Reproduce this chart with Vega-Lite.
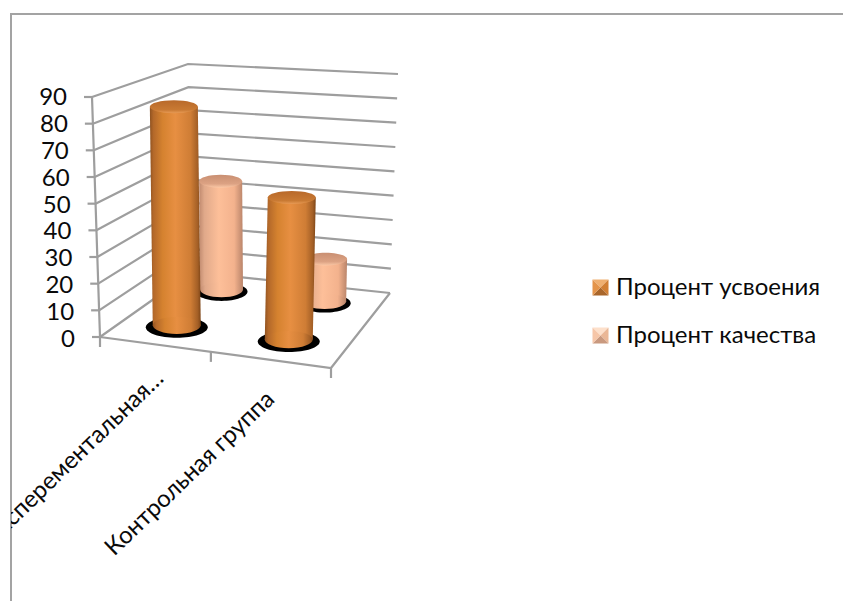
{
  "$schema": "https://vega.github.io/schema/vega-lite/v6.json",
  "width": 840,
  "height": 595,
  "padding": {"left": 11, "top": 14, "right": 0, "bottom": 0},
  "autosize": {"type": "none"},
  "background": "white",
  "config": {"view": {"stroke": "#a3a3a3", "strokeWidth": 2}, "text": {"font": "Lato", "color": "#0a0a0a"}},
  "datasets": {
    "bars": [
      {"group": "Эксперементальная…", "series": "Процент усвоения", "value": 84},
      {"group": "Эксперементальная…", "series": "Процент качества", "value": 45},
      {"group": "Контрольная группа", "series": "Процент усвоения", "value": 53},
      {"group": "Контрольная группа", "series": "Процент качества", "value": 17}
    ],
    "wall": [
      {"level": 0, "u": 0, "d": 0}, {"level": 0, "u": 0, "d": 1}, {"level": 0, "u": 1, "d": 1},
      {"level": 10, "u": 0, "d": 0}, {"level": 10, "u": 0, "d": 1}, {"level": 10, "u": 1, "d": 1},
      {"level": 20, "u": 0, "d": 0}, {"level": 20, "u": 0, "d": 1}, {"level": 20, "u": 1, "d": 1},
      {"level": 30, "u": 0, "d": 0}, {"level": 30, "u": 0, "d": 1}, {"level": 30, "u": 1, "d": 1},
      {"level": 40, "u": 0, "d": 0}, {"level": 40, "u": 0, "d": 1}, {"level": 40, "u": 1, "d": 1},
      {"level": 50, "u": 0, "d": 0}, {"level": 50, "u": 0, "d": 1}, {"level": 50, "u": 1, "d": 1},
      {"level": 60, "u": 0, "d": 0}, {"level": 60, "u": 0, "d": 1}, {"level": 60, "u": 1, "d": 1},
      {"level": 70, "u": 0, "d": 0}, {"level": 70, "u": 0, "d": 1}, {"level": 70, "u": 1, "d": 1},
      {"level": 80, "u": 0, "d": 0}, {"level": 80, "u": 0, "d": 1}, {"level": 80, "u": 1, "d": 1},
      {"level": 90, "u": 0, "d": 0}, {"level": 90, "u": 0, "d": 1}, {"level": 90, "u": 1, "d": 1}
    ],
    "floor": [{"u": 0, "d": 0}, {"u": 1, "d": 0}, {"u": 1, "d": 1}],
    "categoryTicks": [{"u": 0}, {"u": 0.48}, {"u": 1}],
    "groups": [{"group": "Эксперементальная…"}, {"group": "Контрольная группа"}],
    "swatches": [
      {"series": "Процент усвоения", "face": "top"}, {"series": "Процент усвоения", "face": "right"},
      {"series": "Процент усвоения", "face": "bottom"}, {"series": "Процент усвоения", "face": "left"},
      {"series": "Процент качества", "face": "top"}, {"series": "Процент качества", "face": "right"},
      {"series": "Процент качества", "face": "bottom"}, {"series": "Процент качества", "face": "left"}
    ],
    "legendLabels": [{"series": "Процент усвоения"}, {"series": "Процент качества"}]
  },
  "data": {"name": "bars"},
  "transform": [
    {"calculate": "datum.group === 'Контрольная группа' ? 0.735 : 0.23", "as": "u"},
    {"calculate": "datum.series === 'Процент усвоения' ? 0.28 : 0.81", "as": "d"},
    {"calculate": "datum.series === 'Процент усвоения' ? 24 : 21.5", "as": "r"},
    {"calculate": "0", "as": "zero"}
  ],
  "encoding": {
    "x": {"field": "px", "type": "quantitative", "axis": null, "scale": {"domain": [11, 851], "nice": false, "zero": false}},
    "y": {"field": "py", "type": "quantitative", "axis": null, "scale": {"domain": [609, 14], "nice": false, "zero": false}}
  },
  "layer": [
    {
      "description": "Gridlines running along the left and back walls",
      "data": {"name": "wall"},
      "transform": [
        {"calculate": "100+231*datum.u+92*datum.d-33*datum.u*datum.d+datum.level/90*(-8+18*datum.u+4*datum.d-6*datum.u*datum.d)", "as": "px"},
        {"calculate": "337+31*datum.u-65*datum.d-10*datum.u*datum.d-datum.level/90*(240+15*datum.u-32*datum.d-4*datum.u*datum.d)", "as": "py"}
      ],
      "mark": {"type": "line", "color": "#9e9e9e", "strokeWidth": 2.2},
      "encoding": {"detail": {"field": "level"}}
    },
    {
      "description": "Value axis line at the front-left corner",
      "data": {"name": "wall"},
      "transform": [
        {"filter": "datum.u === 0 && datum.d === 0"},
        {"calculate": "100+datum.level/90*(-8)", "as": "px"},
        {"calculate": "337-datum.level/90*240", "as": "py"}
      ],
      "mark": {"type": "line", "color": "#9e9e9e", "strokeWidth": 2.2}
    },
    {
      "description": "Value axis ticks",
      "data": {"name": "wall"},
      "transform": [
        {"filter": "datum.u === 0 && datum.d === 0"},
        {"calculate": "100+datum.level/90*(-8)", "as": "px"},
        {"calculate": "337-datum.level/90*240", "as": "py"},
        {"calculate": "datum.px-8", "as": "px2"}
      ],
      "mark": {"type": "rule", "color": "#9e9e9e", "strokeWidth": 2.2},
      "encoding": {"x2": {"field": "px2"}}
    },
    {
      "description": "Value axis labels",
      "data": {"name": "wall"},
      "transform": [
        {"filter": "datum.u === 0 && datum.d === 0"},
        {"calculate": "75+datum.level/90*(-8)", "as": "px"},
        {"calculate": "340-datum.level/90*242", "as": "py"}
      ],
      "mark": {"type": "text", "align": "right", "baseline": "middle", "fontSize": 24},
      "encoding": {"text": {"field": "level", "type": "quantitative"}}
    },
    {
      "description": "Front and right edges of the floor",
      "data": {"name": "floor"},
      "transform": [
        {"calculate": "100+231*datum.u+92*datum.d-33*datum.u*datum.d", "as": "px"},
        {"calculate": "337+31*datum.u-65*datum.d-10*datum.u*datum.d", "as": "py"}
      ],
      "mark": {"type": "line", "color": "#9e9e9e", "strokeWidth": 2.2}
    },
    {
      "description": "Category axis ticks",
      "data": {"name": "categoryTicks"},
      "transform": [
        {"calculate": "100+231*datum.u", "as": "px"},
        {"calculate": "337+31*datum.u", "as": "py"},
        {"calculate": "datum.py+10", "as": "py2"}
      ],
      "mark": {"type": "rule", "color": "#9e9e9e", "strokeWidth": 2.2},
      "encoding": {"y2": {"field": "py2"}}
    },
    {
      "description": "Category labels, clipped by the chart frame",
      "data": {"name": "groups"},
      "transform": [
        {"calculate": "datum.group === 'Контрольная группа' ? 0.74 : 0.26", "as": "u"},
        {"calculate": "100+231*datum.u", "as": "px"},
        {"calculate": "337+31*datum.u+(datum.group === 'Контрольная группа' ? 36 : 30)", "as": "py"}
      ],
      "mark": {"type": "text", "align": "right", "baseline": "middle", "angle": 316, "fontSize": 24, "clip": true},
      "encoding": {"text": {"field": "group"}}
    },
    {
      "description": "Shadows of the rear series",
      "transform": [
        {"filter": "datum.series === 'Процент качества'"},
        {"calculate": "100+231*datum.u+92*datum.d-33*datum.u*datum.d", "as": "px"},
        {"calculate": "339+31*datum.u-65*datum.d-10*datum.u*datum.d", "as": "py"}
      ],
      "mark": {"type": "point", "filled": true, "opacity": 1, "color": "black", "size": 2704, "shape": "M-1,0A1,0.36,0,1,0,1,0A1,0.36,0,1,0,-1,0Z"}
    },
    {
      "description": "Rear cylinder bodies",
      "transform": [
        {"filter": "datum.series === 'Процент качества'"},
        {"fold": ["value", "zero"], "as": ["end", "v"]},
        {"calculate": "100+231*datum.u+92*datum.d-33*datum.u*datum.d+datum.v/90*(-8+18*datum.u+4*datum.d-6*datum.u*datum.d)-datum.r", "as": "px"},
        {"calculate": "datum.px+2*datum.r", "as": "px2"},
        {"calculate": "337+31*datum.u-65*datum.d-10*datum.u*datum.d-datum.v/90*(240+15*datum.u-32*datum.d-4*datum.u*datum.d)", "as": "py"}
      ],
      "mark": {"type": "area", "orient": "horizontal", "fill": {"gradient": "linear", "x1": 0, "x2": 1, "y1": 0, "y2": 0, "stops": [
        {"offset": 0, "color": "#c08a6f"}, {"offset": 0.12, "color": "#e0a98a"}, {"offset": 0.45, "color": "#fdbf99"}, {"offset": 0.8, "color": "#f3b28d"}, {"offset": 1, "color": "#b9846a"}
      ]}},
      "encoding": {"x2": {"field": "px2"}, "detail": {"field": "group"}}
    },
    {
      "description": "Rounded bottoms of the rear cylinders",
      "transform": [
        {"filter": "datum.series === 'Процент качества'"},
        {"calculate": "100+231*datum.u+92*datum.d-33*datum.u*datum.d", "as": "px"},
        {"calculate": "337+31*datum.u-65*datum.d-10*datum.u*datum.d", "as": "py"}
      ],
      "mark": {"type": "point", "filled": true, "opacity": 1, "size": 1849, "shape": "M-1,0A1,0.36,0,1,0,1,0A1,0.36,0,1,0,-1,0Z", "fill": {"gradient": "linear", "x1": 0, "x2": 1, "y1": 0, "y2": 0, "stops": [
        {"offset": 0, "color": "#c08a6f"}, {"offset": 0.12, "color": "#e0a98a"}, {"offset": 0.45, "color": "#fdbf99"}, {"offset": 0.8, "color": "#f3b28d"}, {"offset": 1, "color": "#b9846a"}
      ]}}
    },
    {
      "description": "Caps of the rear cylinders",
      "transform": [
        {"filter": "datum.series === 'Процент качества'"},
        {"calculate": "100+231*datum.u+92*datum.d-33*datum.u*datum.d+datum.value/90*(-8+18*datum.u+4*datum.d-6*datum.u*datum.d)", "as": "px"},
        {"calculate": "337+31*datum.u-65*datum.d-10*datum.u*datum.d-datum.value/90*(240+15*datum.u-32*datum.d-4*datum.u*datum.d)", "as": "py"}
      ],
      "mark": {"type": "point", "filled": true, "opacity": 1, "size": 1849, "shape": "M-1,0A1,0.3,0,1,0,1,0A1,0.3,0,1,0,-1,0Z", "fill": {"gradient": "linear", "x1": 0, "x2": 0, "y1": 0, "y2": 1, "stops": [
        {"offset": 0, "color": "#c98f72"}, {"offset": 0.7, "color": "#dca283"}, {"offset": 1, "color": "#fbc8a6"}
      ]}}
    },
    {
      "description": "Shadows of the front series",
      "transform": [
        {"filter": "datum.series === 'Процент усвоения'"},
        {"calculate": "100+231*datum.u+92*datum.d-33*datum.u*datum.d", "as": "px"},
        {"calculate": "339+31*datum.u-65*datum.d-10*datum.u*datum.d", "as": "py"}
      ],
      "mark": {"type": "point", "filled": true, "opacity": 1, "color": "black", "size": 3844, "shape": "M-1,0A1,0.34,0,1,0,1,0A1,0.34,0,1,0,-1,0Z"}
    },
    {
      "description": "Front cylinder bodies",
      "transform": [
        {"filter": "datum.series === 'Процент усвоения'"},
        {"fold": ["value", "zero"], "as": ["end", "v"]},
        {"calculate": "100+231*datum.u+92*datum.d-33*datum.u*datum.d+datum.v/90*(-8+18*datum.u+4*datum.d-6*datum.u*datum.d)-datum.r", "as": "px"},
        {"calculate": "datum.px+2*datum.r", "as": "px2"},
        {"calculate": "337+31*datum.u-65*datum.d-10*datum.u*datum.d-datum.v/90*(240+15*datum.u-32*datum.d-4*datum.u*datum.d)", "as": "py"}
      ],
      "mark": {"type": "area", "orient": "horizontal", "fill": {"gradient": "linear", "x1": 0, "x2": 1, "y1": 0, "y2": 0, "stops": [
        {"offset": 0, "color": "#8f5220"}, {"offset": 0.07, "color": "#b3682a"}, {"offset": 0.25, "color": "#d5822f"}, {"offset": 0.5, "color": "#e78f42"}, {"offset": 0.8, "color": "#cf7d35"}, {"offset": 0.94, "color": "#a35f26"}, {"offset": 1, "color": "#7d4517"}
      ]}},
      "encoding": {"x2": {"field": "px2"}, "detail": {"field": "group"}}
    },
    {
      "description": "Rounded bottoms of the front cylinders",
      "transform": [
        {"filter": "datum.series === 'Процент усвоения'"},
        {"calculate": "100+231*datum.u+92*datum.d-33*datum.u*datum.d", "as": "px"},
        {"calculate": "337+31*datum.u-65*datum.d-10*datum.u*datum.d", "as": "py"}
      ],
      "mark": {"type": "point", "filled": true, "opacity": 1, "size": 2304, "shape": "M-1,0A1,0.36,0,1,0,1,0A1,0.36,0,1,0,-1,0Z", "fill": {"gradient": "linear", "x1": 0, "x2": 1, "y1": 0, "y2": 0, "stops": [
        {"offset": 0, "color": "#8f5220"}, {"offset": 0.07, "color": "#b3682a"}, {"offset": 0.25, "color": "#d5822f"}, {"offset": 0.5, "color": "#e78f42"}, {"offset": 0.8, "color": "#cf7d35"}, {"offset": 0.94, "color": "#a35f26"}, {"offset": 1, "color": "#7d4517"}
      ]}}
    },
    {
      "description": "Caps of the front cylinders",
      "transform": [
        {"filter": "datum.series === 'Процент усвоения'"},
        {"calculate": "100+231*datum.u+92*datum.d-33*datum.u*datum.d+datum.value/90*(-8+18*datum.u+4*datum.d-6*datum.u*datum.d)", "as": "px"},
        {"calculate": "337+31*datum.u-65*datum.d-10*datum.u*datum.d-datum.value/90*(240+15*datum.u-32*datum.d-4*datum.u*datum.d)", "as": "py"}
      ],
      "mark": {"type": "point", "filled": true, "opacity": 1, "size": 2304, "shape": "M-1,0A1,0.27,0,1,0,1,0A1,0.27,0,1,0,-1,0Z", "fill": {"gradient": "linear", "x1": 0, "x2": 0, "y1": 0, "y2": 1, "stops": [
        {"offset": 0, "color": "#b8692a"}, {"offset": 0.75, "color": "#c97a33"}, {"offset": 1, "color": "#e79a55"}
      ]}}
    },
    {
      "description": "Bevelled legend swatches",
      "data": {"name": "swatches"},
      "transform": [
        {"calculate": "600.5", "as": "px"},
        {"calculate": "datum.series === 'Процент усвоения' ? 287.5 : 335.5", "as": "py"},
        {"calculate": "datum.series + ' ' + datum.face", "as": "tone"}
      ],
      "mark": {"type": "point", "filled": true, "opacity": 1, "size": 256},
      "encoding": {
        "shape": {"field": "face", "legend": null, "scale": {
          "domain": ["top", "right", "bottom", "left"],
          "range": ["M-1,-1L1,-1L0,0Z", "M1,-1L1,1L0,0Z", "M1,1L-1,1L0,0Z", "M-1,1L-1,-1L0,0Z"]
        }},
        "fill": {"field": "tone", "legend": null, "scale": {
          "domain": ["Процент усвоения top", "Процент усвоения right", "Процент усвоения bottom", "Процент усвоения left", "Процент качества top", "Процент качества right", "Процент качества bottom", "Процент качества left"],
          "range": ["#efaf70", "#d17f34", "#a9662b", "#e4944a", "#fde0cb", "#eab796", "#c9997f", "#f6c6a8"]
        }}
      }
    },
    {
      "description": "Legend labels",
      "data": {"name": "legendLabels"},
      "transform": [
        {"calculate": "616", "as": "px"},
        {"calculate": "datum.series === 'Процент усвоения' ? 288 : 336", "as": "py"}
      ],
      "mark": {"type": "text", "align": "left", "baseline": "middle", "fontSize": 24},
      "encoding": {"text": {"field": "series"}}
    }
  ]
}
